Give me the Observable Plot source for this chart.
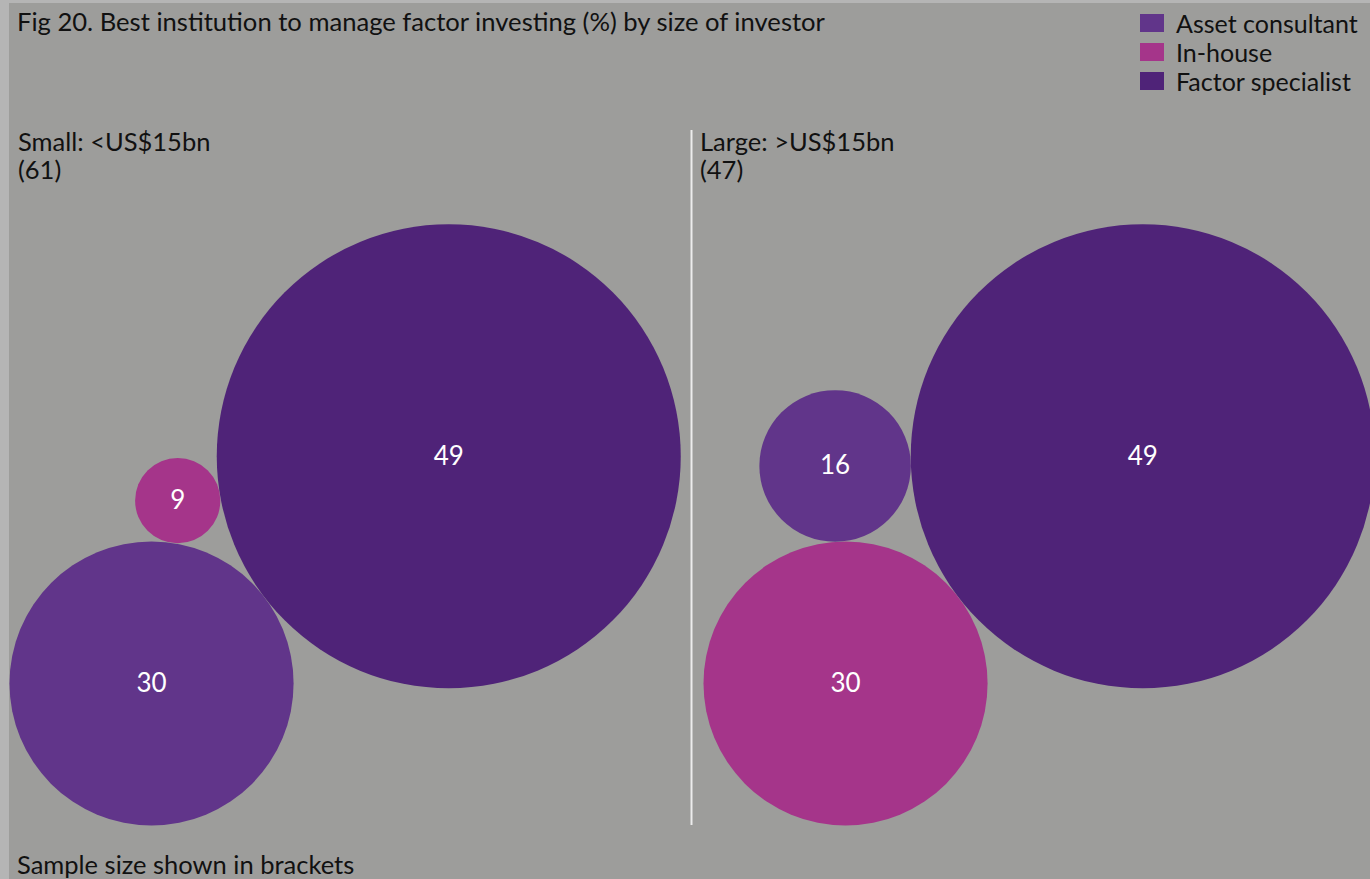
<!DOCTYPE html>
<html>
<head>
<meta charset="utf-8">
<script src="https://cdn.jsdelivr.net/npm/d3@7"></script>
<script src="https://cdn.jsdelivr.net/npm/@observablehq/plot@0.6"></script>
<style>
  html, body { margin: 0; padding: 0; background: #b5b5b5; overflow: hidden; }
  #frame { position: absolute; left: 9px; top: 3px; width: 1361px; height: 876px; background: #9d9d9b; overflow: hidden; font-family: Lato, "Noto Sans", sans-serif; color: #111; }
  #head { position: relative; height: 117px; }
  #title { position: absolute; left: 8px; top: 3px; font-size: 25.6px; white-space: nowrap; }
  #legend { position: absolute; left: 1131px; top: 5px; }
  .item { display: flex; align-items: center; height: 29px; font-size: 25px; white-space: nowrap; }
  .sw { width: 24px; height: 18px; margin-right: 12px; }
  #foot { position: relative; height: 39px; }
  #caption { position: absolute; left: 8px; top: 9px; font-size: 25.5px; white-space: nowrap; }
</style>
</head>
<body>
<div id="frame">
  <div id="head"><div id="title"></div><div id="legend"></div></div>
  <div id="chart"></div>
  <div id="foot"><div id="caption"></div></div>
</div>
<script>
// ---- data ----
const titleText = "Fig 20. Best institution to manage factor investing (%) by size of investor";
const captionText = "Sample size shown in brackets";
const categories = ["Asset consultant", "In-house", "Factor specialist"];
const colors = ["#61358a", "#a5358a", "#4f2378"];
const groups = ["Small: <US$15bn", "Large: >US$15bn"];
const sampleSizes = [61, 47];
const assetConsultant = [30, 16];
const inHouse = [9, 30];
const factorSpecialist = [49, 49];

// ---- layout ----
const W = 1361, H = 720;
const maxR = 232;                 // pixel radius of the largest value
const maxV = d3.max([...assetConsultant, ...inHouse, ...factorSpecialist]);
const k = maxR / maxV;            // px per unit (radius proportional to value)
const panelW = 694 / k;           // panel width in units
const dividerGap = 12 / k;        // divider sits just left of the second panel
const frameTop = 10, frameBottom = 705;
const dir = [-0.7946, 0.6073];    // direction from largest to second circle

const series = [assetConsultant, inHouse, factorSpecialist];
const circles = [];
groups.forEach((g, gi) => {
  const items = categories.map((c, ci) => ({group: g, category: c, value: series[ci][gi]}))
    .sort((a, b) => b.value - a.value);
  const [A, B, C] = items;
  const left = gi * panelW;
  const bottom = frameBottom / k;
  const d = A.value + B.value;
  A.x = left + B.value - d * dir[0];
  A.y = bottom - B.value - d * dir[1];
  B.x = A.x + d * dir[0];
  B.y = A.y + d * dir[1];
  // third circle tangent to both, on the upper-left side
  const dA = A.value + C.value, dB = B.value + C.value;
  const a = (dA * dA - dB * dB + d * d) / (2 * d);
  const h = Math.sqrt(dA * dA - a * a);
  C.x = A.x + a * dir[0] - h * Math.abs(dir[1]);
  C.y = A.y + a * dir[1] - h * Math.abs(dir[0]);
  circles.push(A, B, C);
});
const panels = groups.map((g, i) => ({label: g, n: `(${sampleSizes[i]})`, x: i === 0 ? 0 : i * panelW - dividerGap}));

// ---- header / legend / caption ----
document.getElementById("title").textContent = titleText;
document.getElementById("caption").textContent = captionText;
const legend = document.getElementById("legend");
categories.forEach((c, i) => {
  const it = document.createElement("div"); it.className = "item";
  const sw = document.createElement("div"); sw.className = "sw"; sw.style.background = colors[i];
  const tx = document.createElement("span"); tx.textContent = c;
  it.append(sw, tx); legend.append(it);
});

// ---- plot ----
const chart = Plot.plot({
  width: W, height: H,
  marginLeft: 0, marginRight: 0, marginTop: frameTop, marginBottom: H - frameBottom,
  style: {background: "transparent", fontFamily: "Lato, 'Noto Sans', sans-serif", overflow: "visible"},
  x: {domain: [0, W / k], range: [0, W], axis: null},
  y: {domain: [0, H / k], range: [0, H], axis: null},
  r: {type: "linear", domain: [0, maxV], range: [0, maxR]},
  color: {domain: categories, range: colors},
  marks: [
    Plot.ruleX(panels.slice(1), {x: "x", stroke: "#ececec", strokeWidth: 2}),
    Plot.text(panels, {x: "x", frameAnchor: "top", text: "label", textAnchor: "start", lineAnchor: "bottom", dx: 8.5, dy: 20, fontSize: 25.5, fill: "#111"}),
    Plot.text(panels, {x: "x", frameAnchor: "top", text: "n", textAnchor: "start", lineAnchor: "bottom", dx: 8.5, dy: 48, fontSize: 25.5, fill: "#111"}),
    Plot.dot(circles, {x: "x", y: "y", r: "value", fill: "category"}),
    Plot.text(circles, {x: "x", y: "y", text: d => String(d.value), fill: "white", fontSize: 26, textAnchor: "middle", lineAnchor: "middle"})
  ]
});
document.getElementById("chart").append(chart);
</script>
</body>
</html>
